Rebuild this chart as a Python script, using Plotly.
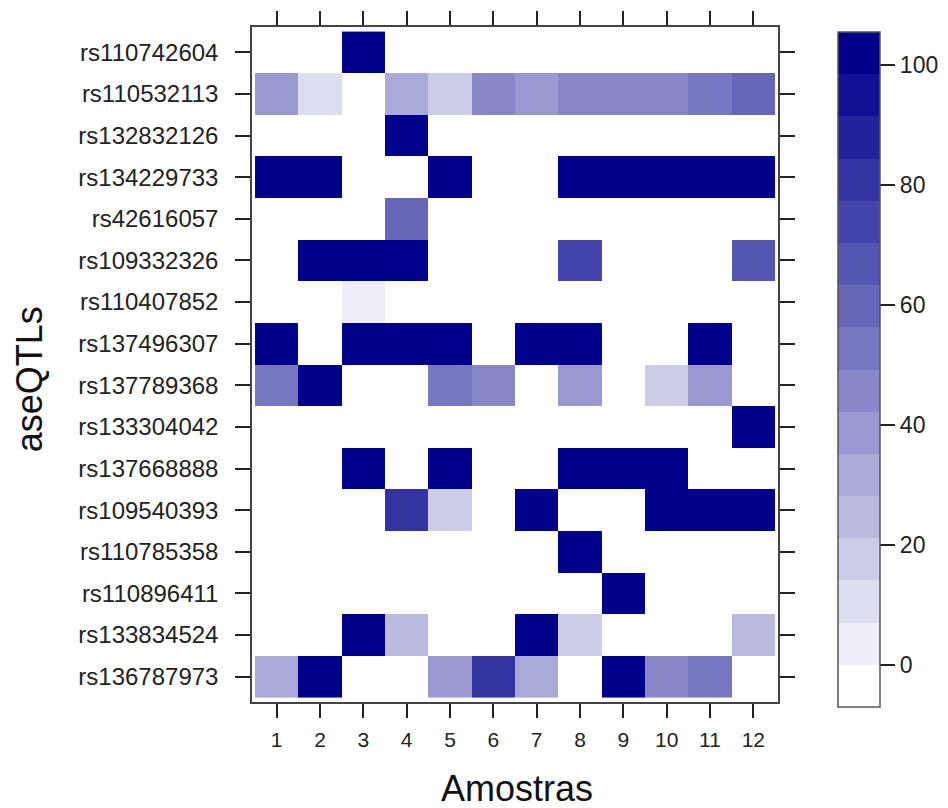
import plotly.graph_objects as go

snps = ["rs110742604", "rs110532113", "rs132832126", "rs134229733", "rs42616057",
        "rs109332326", "rs110407852", "rs137496307", "rs137789368", "rs133304042",
        "rs137668888", "rs109540393", "rs110785358", "rs110896411", "rs133834524",
        "rs136787973"]
amostras = [1, 2, 3, 4, 5, 6, 7, 8, 9, 10, 11, 12]
cbar_ticks = [0, 20, 40, 60, 80, 100]

r01 = [0, 0, 100, 0, 0, 0, 0, 0, 0, 0, 0, 0]
r02 = [38, 10, 0, 31, 17, 45, 38, 45, 45, 45, 52, 59]
r03 = [0, 0, 0, 100, 0, 0, 0, 0, 0, 0, 0, 0]
r04 = [100, 100, 0, 0, 100, 0, 0, 100, 100, 100, 100, 100]
r05 = [0, 0, 0, 59, 0, 0, 0, 0, 0, 0, 0, 0]
r06 = [0, 100, 100, 100, 0, 0, 0, 73, 0, 0, 0, 66]
r07 = [0, 0, 3, 0, 0, 0, 0, 0, 0, 0, 0, 0]
r08 = [100, 0, 100, 100, 100, 0, 100, 100, 0, 0, 100, 0]
r09 = [52, 100, 0, 0, 52, 45, 0, 38, 0, 17, 38, 0]
r10 = [0, 0, 0, 0, 0, 0, 0, 0, 0, 0, 0, 100]
r11 = [0, 0, 100, 0, 100, 0, 0, 100, 100, 100, 0, 0]
r12 = [0, 0, 0, 80, 17, 0, 100, 0, 0, 100, 100, 100]
r13 = [0, 0, 0, 0, 0, 0, 0, 100, 0, 0, 0, 0]
r14 = [0, 0, 0, 0, 0, 0, 0, 0, 100, 0, 0, 0]
r15 = [0, 0, 100, 24, 0, 0, 100, 17, 0, 0, 0, 24]
r16 = [31, 100, 0, 0, 38, 80, 31, 0, 100, 45, 52, 0]

values = [r01, r02, r03, r04, r05, r06, r07, r08, r09, r10, r11, r12, r13, r14, r15, r16]

n_rows = len(snps)
ypos = [n_rows - i for i in range(n_rows)]

zmin, zmax = -7.0, 105.5
nb = 16
colorscale = []
for i in range(nb):
    t = i / (nb - 1)
    r = round(255 * (1 - t))
    b = round(255 - 116 * t)
    c = f"rgb({r},{r},{b})"
    colorscale.append([i / nb, c])
    colorscale.append([(i + 1) / nb, c])

font = "Liberation Sans, Arial, sans-serif"
ink = "#222222"

fig = go.Figure(go.Heatmap(
    z=values, x=amostras, y=ypos,
    zmin=zmin, zmax=zmax, colorscale=colorscale,
    colorbar=dict(
        x=1.114, xanchor="left", y=0.492, yanchor="middle",
        len=1.0, lenmode="fraction", thickness=42, thicknessmode="pixels",
        outlinecolor="#555555", outlinewidth=1.5,
        tickvals=cbar_ticks, ticks="outside", ticklen=15, tickwidth=1.5,
        tickcolor=ink, tickprefix="\u2002",
        tickfont=dict(family=font, size=23, color=ink),
        xpad=0, ypad=0,
    ),
))

fig.update_xaxes(
    range=[0.43, 12.57], tickvals=amostras, ticktext=[str(a) for a in amostras],
    ticks="outside", ticklen=14, tickwidth=1.5, tickcolor=ink,
    showline=True, linecolor="#444444", linewidth=1.5, mirror="ticks",
    showgrid=False, zeroline=False, automargin=False, ticklabelstandoff=4,
    tickfont=dict(family=font, size=21, color=ink),
)
fig.update_yaxes(
    range=[0.39, 16.61], tickvals=ypos, ticktext=snps,
    ticks="outside", ticklen=15, tickwidth=1.5, tickcolor=ink,
    showline=True, linecolor="#444444", linewidth=1.5, mirror="ticks",
    showgrid=False, zeroline=False, automargin=False, ticklabelstandoff=12,
    tickfont=dict(family=font, size=24, color=ink),
)

fig.add_annotation(
    text="Amostras", xref="paper", yref="paper", x=0.503, y=-0.128,
    xanchor="center", yanchor="middle", showarrow=False,
    font=dict(family=font, size=36, color="#111111"),
)
fig.add_annotation(
    text="aseQTLs", xref="paper", yref="paper", x=-0.424, y=0.478,
    xanchor="center", yanchor="middle", showarrow=False, textangle=-90,
    font=dict(family=font, size=36, color="#111111"),
)

fig.update_layout(
    width=948, height=808,
    margin=dict(l=244, r=178, t=19, b=114),
    plot_bgcolor="white", paper_bgcolor="white",
)

fig.write_html("out.html")
